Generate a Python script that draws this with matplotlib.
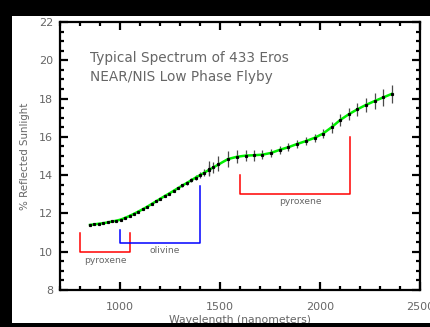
import matplotlib
matplotlib.use("Agg")
import matplotlib.pyplot as plt
from matplotlib.ticker import MultipleLocator
from matplotlib.patches import Rectangle

# ---- data ----
wl_short = [850, 872, 894, 916, 938, 960, 982, 1004, 1026, 1048, 1070, 1092, 1114,
            1136, 1158, 1180, 1202, 1224, 1246, 1268, 1290, 1312, 1334, 1356, 1378,
            1400, 1422, 1444, 1466]
refl_short = [11.40, 11.43, 11.46, 11.49, 11.53, 11.58, 11.62, 11.68, 11.77, 11.87,
              11.98, 12.10, 12.22, 12.35, 12.49, 12.63, 12.77, 12.91, 13.04, 13.18,
              13.32, 13.46, 13.59, 13.73, 13.87, 14.00, 14.13, 14.27, 14.40]
err_short = [0.04, 0.04, 0.04, 0.04, 0.04, 0.04, 0.04, 0.04, 0.04, 0.04, 0.05, 0.05,
             0.05, 0.05, 0.05, 0.05, 0.06, 0.06, 0.06, 0.07, 0.07, 0.08, 0.09, 0.10,
             0.12, 0.15, 0.20, 0.25, 0.30]

wl_long = [1446, 1490, 1540, 1585, 1628, 1670, 1712, 1755, 1798, 1842, 1886, 1930,
           1973, 2015, 2058, 2101, 2144, 2187, 2230, 2273, 2316, 2358]
refl_long = [14.33, 14.60, 14.84, 14.96, 15.02, 15.04, 15.07, 15.16, 15.32, 15.46,
             15.63, 15.78, 15.95, 16.17, 16.50, 16.88, 17.18, 17.44, 17.67, 17.87,
             18.06, 18.24]
err_long = [0.40, 0.40, 0.40, 0.35, 0.30, 0.28, 0.25, 0.22, 0.22, 0.20, 0.20, 0.20,
            0.22, 0.25, 0.28, 0.30, 0.32, 0.35, 0.38, 0.40, 0.43, 0.48]

# absorption band brackets
pyx1_x = [800, 800, 1050, 1050]
pyx1_y = [11.0, 10.0, 10.0, 11.0]
oliv_x = [1000, 1000, 1400, 1400]
oliv_y = [11.15, 10.45, 10.45, 13.45]
pyx2_x = [1600, 1600, 2150, 2150]
pyx2_y = [14.0, 13.0, 13.0, 16.0]

labels = [("pyroxene", 925, 9.55), ("olivine", 1222, 10.05), ("pyroxene", 1900, 12.6)]

title_lines = ["Typical Spectrum of 433 Eros", "NEAR/NIS Low Phase Flyby"]

xmin, xmax, ymin, ymax = 700, 2500, 8, 22
xticks = [1000, 1500, 2000, 2500]
yticks = [8, 10, 12, 14, 16, 18, 20, 22]

TXT = "#666666"
plt.rcParams['font.family'] = ['DejaVu Sans']

fig = plt.figure(figsize=(4.30, 3.27), dpi=100, facecolor="black")
# white panel
fig.patches.append(Rectangle((12/430, 4/327), (430-12)/430, (323-16)/327,
                             transform=fig.transFigure, facecolor="white",
                             edgecolor="none", zorder=-10))
ax = fig.add_axes([60/430, 37/327, 360/430, 268/327], zorder=1)
ax.set_facecolor("white")

ax.errorbar(wl_short, refl_short, yerr=err_short, fmt="none", ecolor="#4a4a4a",
            elinewidth=0.9, zorder=2)
ax.errorbar(wl_long, refl_long, yerr=err_long, fmt="none", ecolor="#4a4a4a",
            elinewidth=0.9, zorder=2)
ax.plot(wl_short + wl_long[2:], refl_short + refl_long[2:], color="#00ee00",
        lw=1.8, zorder=3)
ax.plot(wl_short, refl_short, "s", color="black", ms=1.3, zorder=4)
ax.plot(wl_long, refl_long, "s", color="black", ms=1.3, zorder=4)

ax.plot(pyx1_x, pyx1_y, color="#ff0000", lw=1.1)
ax.plot(oliv_x, oliv_y, color="#0000ff", lw=1.1)
ax.plot(pyx2_x, pyx2_y, color="#ff0000", lw=1.1)
for t, x, y in labels:
    ax.text(x, y, t, ha="center", va="center", fontsize=6.6, color=TXT)

ax.text(849, 20.1, title_lines[0], ha="left", va="center", fontsize=9.8, color=TXT)
ax.text(849, 19.15, title_lines[1], ha="left", va="center", fontsize=9.8, color=TXT)

ax.set_xlim(xmin, xmax)
ax.set_ylim(ymin, ymax)
ax.set_xticks(xticks)
ax.set_yticks(yticks)
ax.xaxis.set_minor_locator(MultipleLocator(100))
ax.yaxis.set_minor_locator(MultipleLocator(0.5))
ax.tick_params(which="both", direction="in", top=True, right=True, width=1.6,
               colors="black", labelcolor=TXT, labelsize=8)
ax.tick_params(which="major", length=6)
ax.tick_params(which="minor", length=3)
ax.tick_params(axis="x", which="major", pad=9)
ax.tick_params(axis="y", which="major", pad=5)
for s in ax.spines.values():
    s.set_linewidth(1.6)
ax.set_xlabel("Wavelength (nanometers)", fontsize=7.8, color=TXT, labelpad=2)
ax.set_ylabel("% Reflected Sunlight", fontsize=7.4, color=TXT, labelpad=6)

# bottom black border cutting the x label as in the reference
fig.patches.append(Rectangle((0, 0), 1, 4/327, transform=fig.transFigure,
                             facecolor="black", edgecolor="none", zorder=10))
fig.savefig("out.png", dpi=100, facecolor="black")
